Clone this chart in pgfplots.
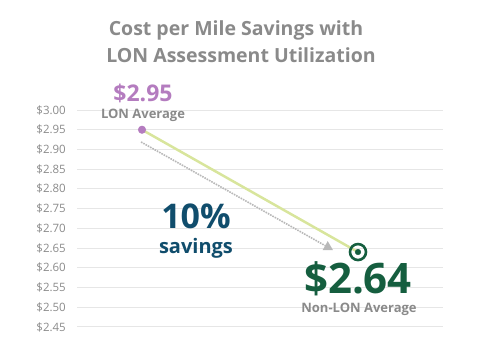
\documentclass[border=0pt]{standalone}
\usepackage{pgfplots}
\pgfplotsset{compat=1.18}
\usepackage{fontspec}
\setmainfont{Open Sans}
\usetikzlibrary{arrows.meta}
\definecolor{txtgrey}{HTML}{8A8A8A}
\definecolor{gridgrey}{HTML}{E6E6E6}
\definecolor{lonpurple}{HTML}{B47CBF}
\definecolor{linegreen}{HTML}{D8E59C}
\definecolor{darkgreen}{HTML}{155E3F}
\definecolor{darkblue}{HTML}{104D6C}
\definecolor{arrowgrey}{HTML}{B8B8B8}
\begin{document}
\begin{tikzpicture}
\useasboundingbox (0,0) rectangle (480pt,351pt);
\node[txtgrey, font=\fontsize{19.5}{24}\selectfont\bfseries, anchor=base, inner sep=0pt] at (236pt,315pt)
  {Cost per Mile Savings with};
\node[txtgrey, font=\fontsize{19.5}{24}\selectfont\bfseries, anchor=base, inner sep=0pt] at (241pt,288pt)
  {LON Assessment Utilization};
\begin{axis}[
  at={(77pt,24pt)}, anchor=south west,
  scale only axis, width=366pt, height=217pt,
  xmin=77, xmax=443, ymin=2.45, ymax=3.00,
  clip=false,
  axis line style={draw=none},
  xtick=\empty,
  ytick={2.45,2.50,...,3.001},
  major tick length=0pt,
  ymajorgrids, grid style={gridgrey, line width=1pt},
  /pgf/number format/assume math mode=true,
  yticklabel={\$\pgfmathprintnumber[fixed,fixed zerofill,precision=2]{\tick}},
  yticklabel style={txtgrey, font=\fontsize{11.5}{13}\selectfont, xshift=-11pt, inner sep=0pt},
]
\addplot[arrowgrey, line width=1.6pt, densely dotted, -{Triangle[length=9pt,width=10pt]}]
  coordinates {(141,2.919) (333,2.645)};
\addplot[linegreen, line width=2.5pt] coordinates {(142,2.95) (358,2.64)};
\addplot[only marks, mark=*, mark size=3.8pt, lonpurple] coordinates {(142,2.95)};
\addplot[only marks, mark=o, mark size=8pt, darkgreen, mark options={line width=2.6pt, fill=white}] coordinates {(358,2.64)};
\addplot[only marks, mark=*, mark size=2.8pt, darkgreen] coordinates {(358,2.64)};
\node[lonpurple, font=\fontsize{23}{24}\selectfont\bfseries, inner sep=0pt, anchor=base] at (axis cs:143,3.0228) {\$2.95};
\node[txtgrey, font=\fontsize{13}{15}\selectfont\bfseries, inner sep=0pt, anchor=base] at (axis cs:143,2.9797) {LON Average};
\node[darkblue, font=\fontsize{34}{36}\selectfont\bfseries, inner sep=0pt, anchor=base] at (axis cs:196,2.7005) {10\%};
\node[darkblue, font=\fontsize{20}{22}\selectfont\bfseries, inner sep=0pt, anchor=base] at (axis cs:196,2.6371) {savings};
\node[darkgreen, font=\fontsize{42}{44}\selectfont\bfseries, inner sep=0pt, anchor=base] at (axis cs:358,2.5355) {\$2.64};
\node[txtgrey, font=\fontsize{13}{15}\selectfont\bfseries, inner sep=0pt, anchor=base] at (axis cs:359,2.4873) {Non-LON Average};
\end{axis}
\end{tikzpicture}
\end{document}
